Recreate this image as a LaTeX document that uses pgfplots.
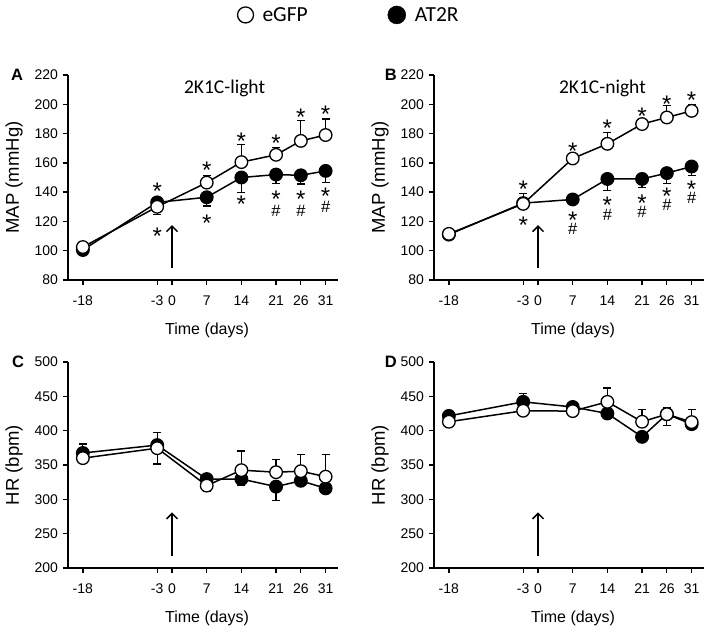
\documentclass[border=0pt]{standalone}
\usepackage{fontspec}
\setmainfont{Liberation Sans}
\newfontfamily\carlito{Carlito}
\usepackage{pgfplots}
\pgfplotsset{compat=1.18}
\usetikzlibrary{arrows.meta}

\tikzset{
  star/.style={font=\fontsize{24}{24}\selectfont, anchor=base, yshift=-14pt, inner sep=0pt},
  hash/.style={font=\fontsize{16.5}{16.5}\selectfont, anchor=base, yshift=-5.9pt, inner sep=0pt},
  plab/.style={font=\bfseries\fontsize{16.5}{16.5}\selectfont, anchor=center},
  darr/.style={line width=1.5pt, -{Straight Barb[length=5.5pt,width=11pt,line width=1.5pt]}},
}
\newcommand\st[2]{\node[star] at (axis cs:#1,#2) {*};}
\newcommand\hs[2]{\node[hash] at (axis cs:#1,#2) {\#};}

\pgfplotsset{
  panel/.style={
    scale only axis, width=270pt,
    axis lines=left, axis line style={-, line width=1.3pt},
    xmin=-21, xmax=33.5,
    xtick={-18,-3,0,7,14,21,26,31},
    xticklabels={-18,-3,0,7,14,21,26,31},
    tick align=outside, major tick length=5pt,
    every tick/.style={black, line width=1.3pt},
    tick label style={font=\fontsize{14}{16}\selectfont},
    /pgf/number format/assume math mode=true,
    yticklabel style={xshift=-1.5pt},
    xticklabel style={yshift=-7.5pt},
    xlabel={Time (days)},
    xlabel style={font=\fontsize{16}{18}\selectfont, at={(axis description cs:0.515,-0.244)}, anchor=center},
    ylabel style={font=\fontsize{18.5}{20}\selectfont, at={(axis description cs:-0.2,0.5)}, anchor=center},
    clip=false,
  },
  map/.style={panel, height=205pt, ymin=80, ymax=220, ytick={80,100,...,220}, ylabel={MAP (mmHg)}},
  hr/.style={panel, height=206pt, ymin=200, ymax=500, ytick={200,250,...,500}, ylabel={HR (bpm)}},
  egp/.style={black, line width=1.5pt, mark=*, mark size=6.3pt,
    mark options={fill=white, draw=black, line width=1.3pt},
    error bars/y dir=both, error bars/y explicit,
    error bars/error bar style={line width=1.2pt, black},
    error bars/error mark options={rotate=90, mark size=4pt, line width=1.2pt, black}},
  atr/.style={black, line width=1.5pt, mark=*, mark size=6.3pt,
    mark options={fill=black, draw=black, line width=1.3pt},
    error bars/y dir=both, error bars/y explicit,
    error bars/error bar style={line width=1.2pt, black},
    error bars/error mark options={rotate=90, mark size=4pt, line width=1.2pt, black}},
}

\begin{document}
\begin{tikzpicture}
\useasboundingbox (0,0) rectangle (712pt,633pt);

% ---------------- Panel A ----------------
\begin{axis}[map, at={(68pt,353pt)}, anchor=south west,
  legend style={at={(axis description cs:1.041,1.293)}, anchor=center, draw=none, fill=none,
    legend columns=2, font=\carlito\fontsize{21.5}{24}\selectfont,
    /tikz/every even column/.append style={column sep=78pt}},
  legend cell align=left]
\addlegendimage{only marks, mark=*, mark size=8pt, mark options={fill=white, draw=black, line width=1.3pt}}
\addlegendentry{\hspace{7pt}eGFP}
\addlegendimage{only marks, mark=*, mark size=9pt, mark options={fill=black, draw=black}}
\addlegendentry{\hspace{7pt}AT2R}
\addplot[atr] coordinates {(-18,100.5) (-3,133) (7,136.5) -= (0,6) (14,150) -= (0,10) (21,152) -= (0,6) (26,151.5) -= (0,6) (31,154.5) -= (0,8)};
\addplot[egp] coordinates {(-18,102.5) (-3,130) -= (0,5) (7,146.5) += (0,5) (14,160.5) += (0,12) (21,165.5) += (0,5) (26,175) += (0,14) (31,179) += (0,11)};
\node[font=\carlito\fontsize{19.5}{21}\selectfont] at (axis cs:10.6,211) {2K1C-light};
\node[plab] at (axis description cs:-0.189,1.0) {A};
\draw[darr] (axis cs:0,88) -- (axis cs:0,117.5);
\st{-3}{144.5} \st{-3}{114}
\st{7}{159} \st{7}{123}
\st{14}{179} \st{14}{135.5}
\st{21}{177} \st{21}{139} \hs{21}{127.5}
\st{26}{195} \st{26}{139} \hs{26}{127.5}
\st{31}{197} \st{31}{141} \hs{31}{130}
\end{axis}

% ---------------- Panel B ----------------
\begin{axis}[map, at={(434pt,353pt)}, anchor=south west]
\addplot[atr] coordinates {(-18,111) (-3,132.5) (7,135) (14,149) -= (0,8) (21,149) -= (0,6) (26,153) -= (0,7) (31,157.5) -= (0,6)};
\addplot[egp] coordinates {(-18,111.5) (-3,132) += (0,7) (7,163) (14,173) += (0,8) (21,186.5) (26,191) += (0,8) (31,195.5) += (0,4.5)};
\node[font=\carlito\fontsize{19.5}{21}\selectfont] at (axis cs:13,211) {2K1C-night};
\node[plab] at (axis description cs:-0.16,1.0) {B};
\draw[darr] (axis cs:0,88) -- (axis cs:0,117.5);
\st{-3}{146} \st{-3}{121}
\st{7}{171.6} \st{7}{124.6} \hs{7}{115}
\st{14}{187.6} \st{14}{135} \hs{14}{125}
\st{21}{196} \st{21}{136.6} \hs{21}{127}
\st{26}{204} \st{26}{141} \hs{26}{131.5}
\st{31}{206.5} \st{31}{146} \hs{31}{136.6}
\end{axis}

% ---------------- Panel C ----------------
\begin{axis}[hr, at={(68pt,65pt)}, anchor=south west]
\addplot[atr] coordinates {(-18,367.5) += (0,13) (-3,379) += (0,18) (7,329.5) (14,329.5) -= (0,9) (21,318.5) -= (0,20) (26,327) (31,316)};
\addplot[egp] coordinates {(-18,360) (-3,374.5) -= (0,23) (7,320) -= (0,9) (14,342.5) += (0,28) (21,339.5) += (0,18) (26,341) += (0,24) (31,333) += (0,32)};
\node[plab] at (axis description cs:-0.185,1.0) {C};
\draw[darr] (axis cs:0,217) -- (axis cs:0,281);
\end{axis}

% ---------------- Panel D ----------------
\begin{axis}[hr, at={(434pt,65pt)}, anchor=south west]
\addplot[atr] coordinates {(-18,421.5) (-3,442) += (0,12) (7,434.5) (14,425) (21,391) (26,424) (31,409.5)};
\addplot[egp] coordinates {(-18,413) (-3,429) (7,428.5) (14,442) += (0,20) (21,413) += (0,18) (26,424) += (0,9) -= (0,16) (31,412.5) += (0,18)};
\node[plab] at (axis description cs:-0.16,1.0) {D};
\draw[darr] (axis cs:0,217) -- (axis cs:0,281);
\end{axis}
\end{tikzpicture}
\end{document}
